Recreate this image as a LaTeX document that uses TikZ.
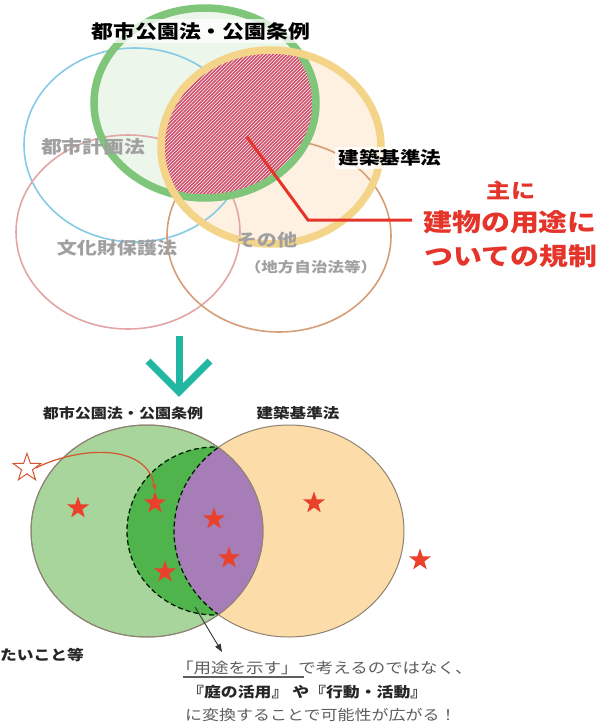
\documentclass[tikz,border=0pt]{standalone}
\usepackage{fontspec}
\newfontfamily\jp[FakeStretch=1.18]{Noto Sans CJK JP}
\usetikzlibrary{shapes.geometric,arrows.meta}
\definecolor{ringgreen}{HTML}{7FC67A}
\definecolor{ringyellow}{HTML}{F4D488}
\definecolor{palegreen}{HTML}{EDF6EA}
\definecolor{palepeach}{HTML}{FFF0DF}
\definecolor{thinblue}{HTML}{86CBE6}
\definecolor{thinpink}{HTML}{E3A6A6}
\definecolor{thinbrown}{HTML}{D69E76}
\definecolor{hatchred}{HTML}{D0506C}
\definecolor{grtext}{HTML}{A0A0A0}
\definecolor{redtext}{HTML}{E5352B}
\definecolor{tealc}{HTML}{22B7A2}
\definecolor{lgreen}{HTML}{A8D59C}
\definecolor{dgreen}{HTML}{4FB44B}
\definecolor{lpurple}{HTML}{A67DB7}
\definecolor{lyellow}{HTML}{FCDDA9}
\definecolor{outl}{HTML}{8E8272}
\definecolor{starred}{HTML}{E9412B}
\definecolor{arrred}{HTML}{D4552E}
\definecolor{dtext}{HTML}{5E5E5E}
\begin{document}
\begin{tikzpicture}[x=1pt,y=-1pt,
  jp/.style={font=\jp, inner sep=0pt},
  redstar/.style={star, star points=5, star point ratio=2.5, fill=starred, draw=none, minimum size=23pt, inner sep=0pt},
  hatchline/.style={draw=hatchred, line width=1.6pt},
  thinring/.style={line width=1.6pt},
  thickring/.style={line width=7.5pt},
  lowline/.style={draw=outl, line width=1pt},
]
\useasboundingbox[fill=white] (0,0) rectangle (612,726);

% ---------------- top diagram ----------------
\fill[palegreen] (205,103) ellipse [x radius=111, y radius=95];
\fill[palepeach, fill opacity=0.9] (271,147) ellipse [x radius=110, y radius=97];
\draw[thinring, thinblue] (135,145) ellipse [x radius=111, y radius=97];
\draw[thinring, thinpink] (128,232) ellipse [x radius=112, y radius=97];
\draw[thinring, thinbrown] (279,236) ellipse [x radius=112, y radius=96];
\begin{scope}
  \clip (205,103) ellipse [x radius=111, y radius=95];
  \clip (271,147) ellipse [x radius=110, y radius=97];
  \fill[white] (150,40) rectangle (330,210);
  \foreach \i in {-40,-36.5,...,340} \draw[hatchline] (\i,210) -- ++(200,-200);
\end{scope}
\draw[thickring, ringgreen] (205,103) ellipse [x radius=111, y radius=95];
\draw[thickring, ringyellow] (271,147) ellipse [x radius=110, y radius=97];

\node[jp, text=grtext, font=\jp\bfseries\fontsize{17.6}{20}\selectfont] (tkeikaku) at (93,147) {都市計画法};
\node[jp, text=grtext, font=\jp\bfseries\fontsize{17}{20}\selectfont] (tbunka) at (117,248) {文化財保護法};
\node[jp, text=grtext, font=\jp\bfseries\fontsize{17}{20}\selectfont] (tsonota) at (267,240) {その他};
\node[jp, text=grtext, font=\jp\bfseries\fontsize{14}{16}\selectfont] (tchiho) at (311,267) {（地方自治法等）};
\node[jp, fill=white, fill opacity=0.75, text opacity=1, inner sep=3pt, font=\jp\bfseries\fontsize{18.5}{20}\selectfont] (ttitle) at (201,31) {都市公園法・公園条例};
\node[jp, fill=white, fill opacity=0.8, text opacity=1, inner sep=3pt, font=\jp\bfseries\fontsize{17.5}{20}\selectfont] (tkenchiku) at (390,158) {建築基準法};

\node[jp, text=redtext, font=\jp\bfseries\fontsize{20.5}{22}\selectfont] (rl1) at (511,190) {主に};
\node[jp, text=redtext, font=\jp\bfseries\fontsize{24.5}{26}\selectfont] (rl2) at (510,222) {建物の用途に};
\node[jp, text=redtext, font=\jp\bfseries\fontsize{24.5}{26}\selectfont] (rl3) at (511,256) {ついての規制};
\coordinate (rs) at (247,137);
\coordinate (rk) at (308,220);
\coordinate (re) at (412,220);
\draw[redtext, line width=3pt] (rs) -- (rk) -- (re);

% ---------------- teal arrow ----------------
\coordinate (ta) at (179,336);
\coordinate (tb) at (179,392);
\coordinate (tl) at (148,361);
\coordinate (tr) at (210,361);
\draw[tealc, line width=7pt] (ta) -- (tb);
\draw[tealc, line width=7pt, line join=miter] (tl) -- (tb) -- (tr);

% ---------------- lower diagram ----------------
\node[jp, text=black!85, font=\jp\bfseries\fontsize{13.6}{16}\selectfont] (btitle) at (123,413) {都市公園法・公園条例};
\node[jp, text=black!85, font=\jp\bfseries\fontsize{14}{16}\selectfont] (bkenchiku) at (298,413) {建築基準法};

\fill[lyellow] (289,531) ellipse [x radius=115, y radius=106];
\draw[lowline] (289,531) ellipse [x radius=115, y radius=106];
\fill[lgreen] (147,531) ellipse [x radius=116, y radius=106];
\draw[lowline] (147,531) ellipse [x radius=116, y radius=106];
\begin{scope}
  \clip (147,531) ellipse [x radius=116, y radius=106];
  \fill[dgreen] (215,531) ellipse [x radius=88, y radius=84];
  \draw[draw=black!70!green!40!black, line width=1.3pt, dash pattern=on 5pt off 3pt] (215,531) ellipse [x radius=88, y radius=84];
\end{scope}
\begin{scope}
  \clip (147,531) ellipse [x radius=116, y radius=106];
  \fill[lpurple] (289,531) ellipse [x radius=115, y radius=106];
  \draw[draw=black!70!green!40!black, line width=1.3pt, dash pattern=on 5pt off 3pt] (289,531) ellipse [x radius=115, y radius=106];
\end{scope}
\draw[lowline] (147,531) ellipse [x radius=116, y radius=106];

\node[star, star points=5, star point ratio=2.5, draw=arrred, fill=white, line width=1pt, minimum size=29pt, inner sep=0pt] (so) at (27,468) {};
\node[redstar] (s1) at (78,508) {};
\node[redstar] (s2) at (155,503) {};
\node[redstar] (s3) at (214,519) {};
\node[redstar] (s4) at (229,558) {};
\node[redstar] (s5) at (165,572) {};
\node[redstar] (s6) at (314,503) {};
\node[redstar] (s7) at (420,560) {};
\draw[arrred, line width=1.2pt, -{Stealth[length=7pt,width=5pt]}] (so.east) .. controls (80,446) and (148,443) .. (s2.north);

\coordinate (ba) at (195,607);
\coordinate (bb) at (222,652);
\draw[black!80, line width=0.9pt, -{Triangle[length=8pt,width=6pt]}] (ba) -- (bb);

\node[jp, anchor=west, text=black!85, font=\jp\bfseries\fontsize{14.2}{16}\selectfont] (tai) at (0,655) {たいこと等};

\node[jp, anchor=west, text=dtext, font=\jp\fontsize{14.8}{16}\selectfont] (bl1) at (176,668) {「用途を示す」で考えるのではなく、};
\coordinate (ul1) at (183,677);
\coordinate (ul2) at (304,677);
\draw[dtext, line width=1.2pt] (ul1) -- (ul2);
\node[jp, anchor=west, text=black!85, font=\jp\bfseries\fontsize{14.3}{16}\selectfont] (bl2) at (187,692) {『庭の活用』 や『行動・活動』};
\node[jp, anchor=west, text=dtext, font=\jp\fontsize{14.4}{16}\selectfont] (bl3) at (185,715) {に変換することで可能性が広がる！};
\end{tikzpicture}
\end{document}
